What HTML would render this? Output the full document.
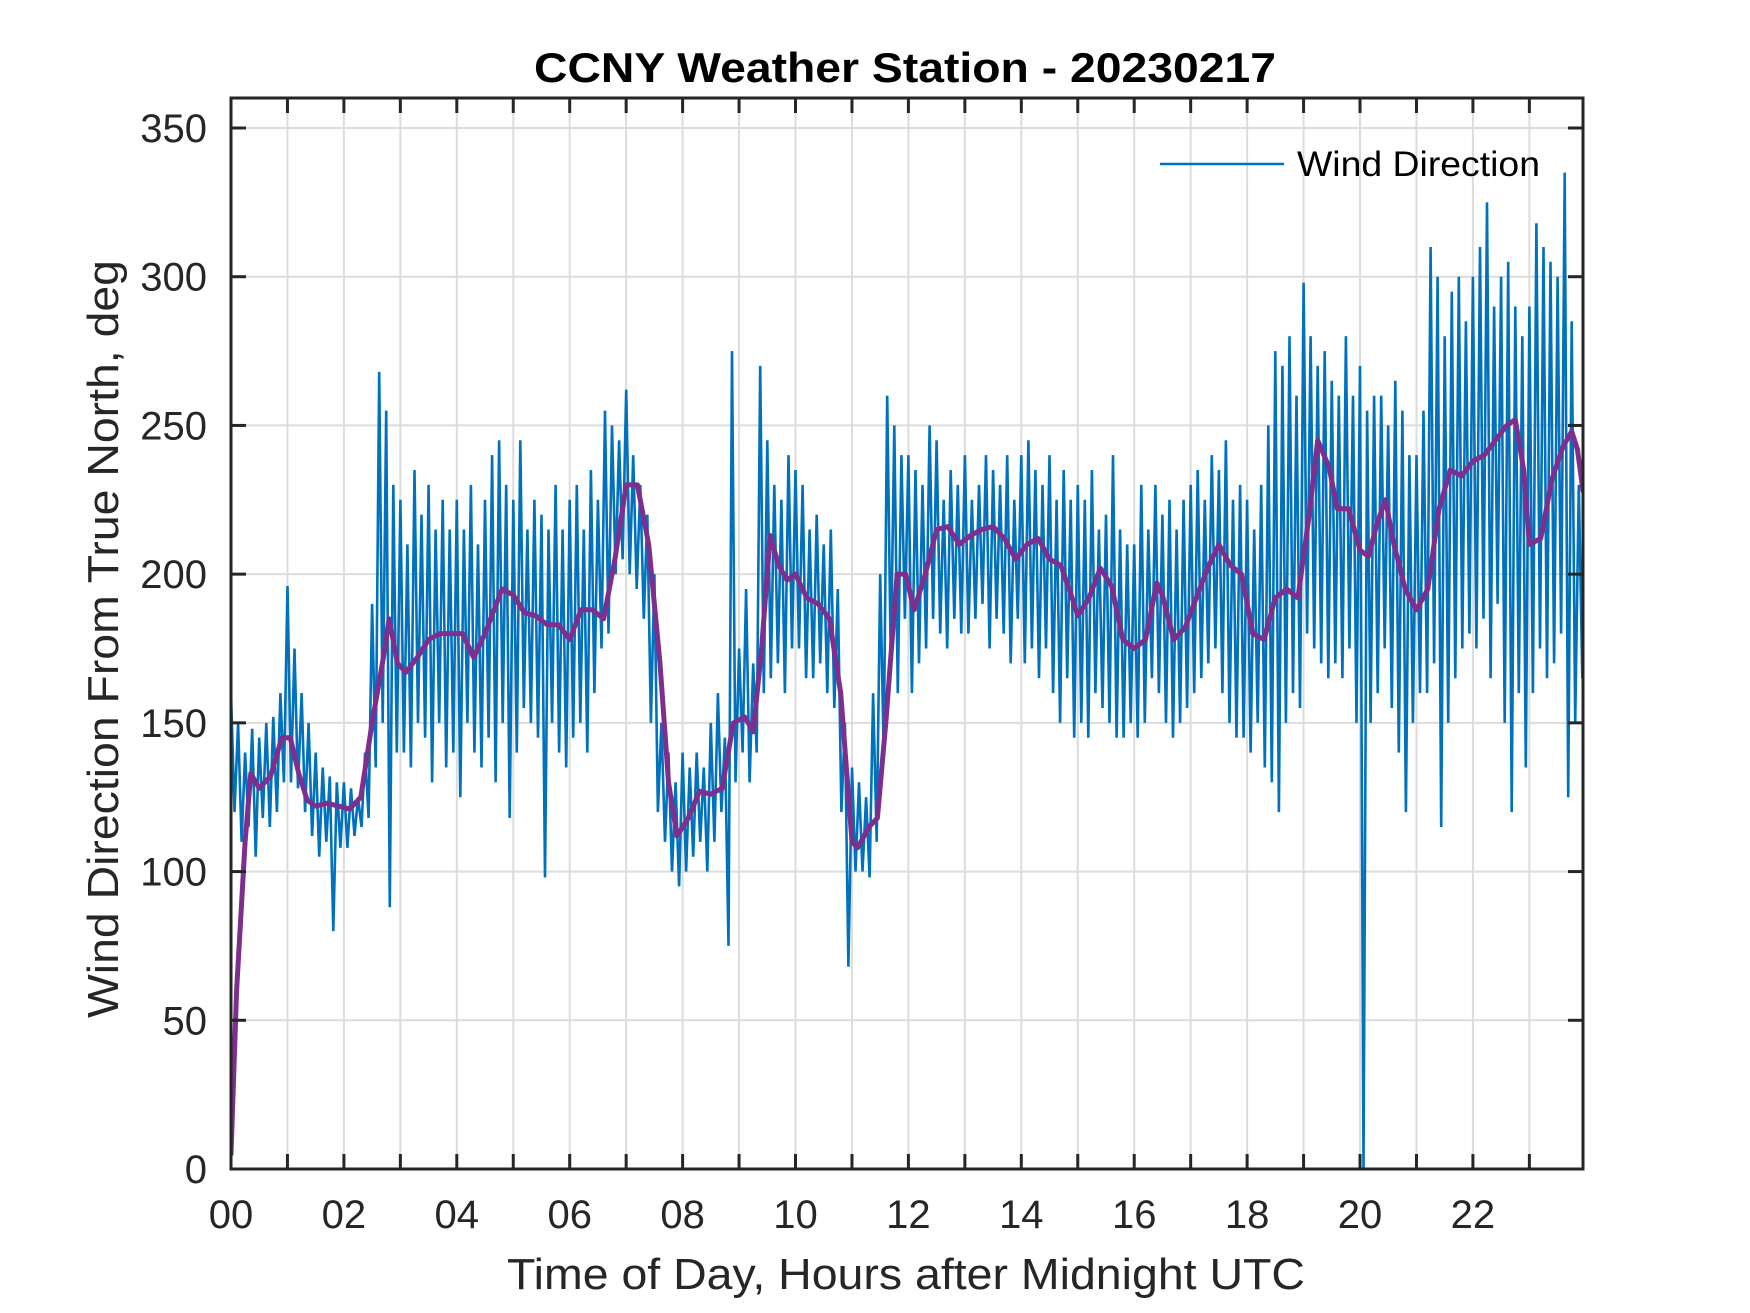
<!DOCTYPE html>
<html><head><meta charset="utf-8"><style>
html,body{margin:0;padding:0;background:#fff;}
svg{display:block;font-family:"Liberation Sans",Arial,sans-serif;}
</style></head><body>
<svg id="chart" width="1750" height="1313" viewBox="0 0 1750 1313" xmlns="http://www.w3.org/2000/svg">
<rect width="1750" height="1313" fill="#fff"/>
<defs><clipPath id="pc"><rect x="231" y="98" width="1352" height="1071"/></clipPath></defs>
<g id="grid"></g>
<g id="series" clip-path="url(#pc)"></g>
<g id="axes"></g>
<text x="905" y="82" text-anchor="middle" font-weight="bold" font-size="42" fill="#000" textLength="742" lengthAdjust="spacingAndGlyphs">CCNY Weather Station - 20230217</text>
<text x="906" y="1289" text-anchor="middle" font-size="44" fill="#262626" textLength="798" lengthAdjust="spacingAndGlyphs">Time of Day, Hours after Midnight UTC</text>
<text transform="translate(118,639) rotate(-90)" text-anchor="middle" font-size="44" fill="#262626" textLength="758" lengthAdjust="spacingAndGlyphs">Wind Direction From True North, deg</text>
<g>
<line x1="1160" y1="164" x2="1284" y2="164" stroke="#0072BD" stroke-width="2.5"/>
<text x="1297" y="176" font-size="35" fill="#000" textLength="243" lengthAdjust="spacingAndGlyphs">Wind Direction</text>
</g>
</svg>
<script>
const xTickHours = [0,1,2,3,4,5,6,7,8,9,10,11,12,13,14,15,16,17,18,19,20,21,22,23];
const xTickLabels = ["00","02","04","06","08","10","12","14","16","18","20","22"];
const yTicks = [0,50,100,150,200,250,300,350];
const sampleStep = 0.125;
const windHigh = [
160,150,140,148,145,150,152,160,
196,175,160,150,140,135,132,130,
130,128,125,140,190,268,255,230,
225,210,235,220,230,215,225,215,
225,215,230,210,225,240,245,230,
225,245,215,225,220,215,230,215,
225,230,215,235,225,255,250,245,
262,240,230,220,200,150,140,130,
140,135,140,135,150,160,145,275,
175,195,170,270,245,230,225,240,
235,230,215,220,210,215,195,150,
135,130,125,160,200,260,250,240,
240,235,230,250,245,225,235,230,
240,225,230,240,235,230,240,225,
240,245,235,230,240,225,235,225,
230,225,235,215,220,240,215,210,
210,230,215,230,220,225,215,225,
230,235,225,240,235,245,225,230,
225,215,230,250,275,270,280,260,
298,280,270,275,265,260,280,260,
270,255,260,260,250,265,255,240,
240,255,310,300,280,295,300,285,
300,310,325,290,300,305,290,280,
290,318,310,305,300,335,285,230];
const windLow = [
120,110,115,105,118,115,120,130,
130,128,120,112,105,110,80,108,
108,112,115,118,135,150,88,140,
140,135,150,145,130,150,135,140,
125,150,140,135,145,130,150,118,
140,155,150,145,98,150,140,135,
145,150,140,160,175,180,200,205,
200,195,185,150,120,110,100,95,
100,105,110,100,110,120,75,130,
140,130,140,160,165,170,160,175,
175,165,165,170,160,155,120,68,
100,100,98,110,140,170,160,185,
160,170,175,185,180,175,185,180,
180,185,190,175,185,180,170,185,
170,175,165,175,160,150,165,145,
150,145,160,155,150,145,145,150,
145,150,165,160,150,145,150,155,
160,165,170,175,160,150,145,145,
140,150,135,130,120,150,160,155,
180,175,170,165,170,165,175,150,
0,150,160,175,155,140,120,150,
160,160,170,115,150,165,175,180,
175,185,165,190,150,120,160,135,
160,175,165,170,180,125,150,165];
const avgHours = [0,0.1,0.25,0.35,0.5,0.7,0.9,1.05,1.2,1.35,1.5,1.7,1.9,2.1,2.3,2.5,2.7,2.8,2.95,3.1,3.3,3.5,3.7,3.9,4.1,4.3,4.5,4.8,5.0,5.2,5.4,5.6,5.8,6.0,6.2,6.4,6.6,6.8,7.0,7.2,7.4,7.6,7.75,7.9,8.1,8.3,8.5,8.7,8.9,9.1,9.25,9.4,9.55,9.7,9.85,10.0,10.2,10.4,10.6,10.8,11.0,11.1,11.3,11.45,11.6,11.8,11.95,12.1,12.3,12.5,12.7,12.9,13.1,13.3,13.5,13.7,13.9,14.1,14.3,14.5,14.7,14.9,15.0,15.2,15.4,15.6,15.8,16.0,16.2,16.4,16.5,16.7,16.9,17.1,17.3,17.5,17.7,17.9,18.1,18.3,18.5,18.7,18.9,19.1,19.25,19.45,19.6,19.8,20.0,20.15,20.3,20.45,20.6,20.8,21.0,21.2,21.4,21.6,21.8,22.0,22.2,22.4,22.6,22.75,22.9,23.0,23.2,23.4,23.6,23.75,23.85,23.95];
const avgValues = [5,60,110,133,128,132,145,145,133,124,122,123,122,121,125,150,172,185,170,167,172,178,180,180,180,172,180,195,193,187,186,183,183,178,188,188,185,205,230,230,210,170,130,112,118,127,126,128,150,152,147,175,213,203,198,200,192,190,185,160,110,108,115,118,150,200,200,188,200,215,216,210,213,215,216,212,205,210,212,205,203,192,186,192,202,196,178,175,178,197,193,178,182,192,202,210,203,200,180,178,192,195,192,220,245,236,222,222,208,206,217,225,210,195,188,195,222,235,233,238,240,245,250,252,235,210,212,232,243,248,242,228];

const X0=231,X1=1583,Y0=1169,Y1=128,XMAX=23.95;
function xs(h){return X0+(X1-X0)*h/XMAX;}
function ys(v){return Y0+(Y1-Y0)*v/350;}
const NS="http://www.w3.org/2000/svg";
function mk(tag,attrs,parent){const e=document.createElementNS(NS,tag);for(const k in attrs)e.setAttribute(k,attrs[k]);parent.appendChild(e);return e;}
const grid=document.getElementById('grid'),axes=document.getElementById('axes'),series=document.getElementById('series');

xTickHours.forEach(h=>{
  if(h===0)return;
  const g=mk('line',{x1:xs(h),x2:xs(h),y1:98,y2:Y0,stroke:'#dcdcdc','stroke-width':2},grid);
  
  
});
yTicks.forEach(v=>{
  if(v===0)return;
  const g=mk('line',{x1:X0,x2:X1,y1:ys(v),y2:ys(v),stroke:'#dcdcdc','stroke-width':2},grid);
  
  
});

let pts=[];
windHigh.forEach((v,i)=>{
  const t=i*sampleStep;
  pts.push(xs(t).toFixed(1)+','+ys(v).toFixed(1));
  pts.push(xs(t+sampleStep/2).toFixed(1)+','+ys(windLow[i]).toFixed(1));
});
const wl=mk('polyline',{points:pts.join(' '),fill:'none',stroke:'#0072BD','stroke-width':2.6,'stroke-linejoin':'miter','stroke-miterlimit':2},series);



const ap=avgHours.map((h,i)=>xs(h).toFixed(1)+','+ys(avgValues[i]).toFixed(1)).join(' ');
const al=mk('polyline',{points:ap,fill:'none',stroke:'#7E2F8E','stroke-width':5,'stroke-linejoin':'round','stroke-linecap':'round'},series);



const box=mk('rect',{x:X0,y:98,width:X1-X0,height:Y0-98,fill:'none',stroke:'#262626','stroke-width':3},axes);


xTickHours.forEach(h=>{
  const t1=mk('line',{x1:xs(h),x2:xs(h),y1:Y0,y2:Y0-15,stroke:'#262626','stroke-width':3},axes);
  
  
  const t2=mk('line',{x1:xs(h),x2:xs(h),y1:98,y2:113,stroke:'#262626','stroke-width':3},axes);
  
  
});
xTickLabels.forEach((lab,i)=>{
  const t=mk('text',{x:xs(i*2),y:1228,'text-anchor':'middle','font-size':40,fill:'#262626'},axes);
  t.textContent=lab;
  
  
});
yTicks.forEach(v=>{
  const t1=mk('line',{x1:X0,x2:X0+15,y1:ys(v),y2:ys(v),stroke:'#262626','stroke-width':3},axes);
  
  
  const t2=mk('line',{x1:X1,x2:X1-15,y1:ys(v),y2:ys(v),stroke:'#262626','stroke-width':3},axes);
  
  
  const t=mk('text',{x:207,y:ys(v)+14,'text-anchor':'end','font-size':40,fill:'#262626'},axes);
  t.textContent=String(v);
  
  
});
</script>
</body></html>
